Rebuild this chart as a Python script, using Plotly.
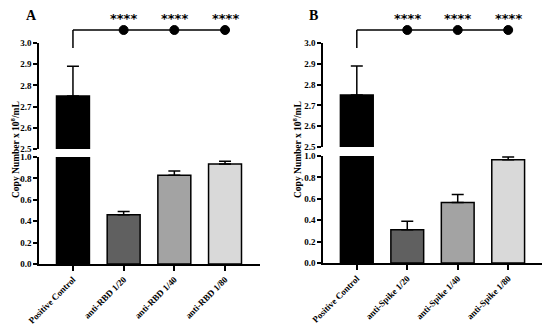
import plotly.graph_objects as go

cats_a = ["Positive Control", "anti-RBD 1/20", "anti-RBD 1/40", "anti-RBD 1/80"]
vals_a = [2.75, 0.46, 0.83, 0.935]
err_a = [0.14, 0.03, 0.04, 0.025]

cats_b = ["Positive Control", "anti-Spike 1/20", "anti-Spike 1/40", "anti-Spike 1/80"]
vals_b = [2.75, 0.31, 0.565, 0.965]
err_b = [0.14, 0.08, 0.075, 0.025]

colors = ["#000000", "#606060", "#a3a3a3", "#d9d9d9"]
sig_labels = ["****", "****", "****"]
upper_ticks = [2.5, 2.6, 2.7, 2.8, 2.9, 3.0]
lower_ticks = [0.0, 0.2, 0.4, 0.6, 0.8, 1.0]

OFF = 8  # page body margin
W, H = 550 - OFF, 327 - OFF
FONT = "Liberation Serif"

def px(v):
    return (v - OFF) / W

def py(v):
    return 1 - (v - OFF) / H

fig = go.Figure()

panels = [
    dict(cats=cats_a, vals=vals_a, err=err_a, x="x", x2="x2", yu="y", yl="y2",
         xdom=[px(39), px(260)], yu_dom=[py(149), py(43)], yl_dom=[py(264), py(157)],
         letter="A", letter_x=31, title_x=15),
    dict(cats=cats_b, vals=vals_b, err=err_b, x="x3", x2="x4", yu="y3", yl="y4",
         xdom=[px(323), px(543)], yu_dom=[py(147), py(43)], yl_dom=[py(263), py(156)],
         letter="B", letter_x=313, title_x=297),
]

for p in panels:
    idx = list(range(len(p["cats"])))
    for xa, ya in [(p["x"], p["yu"]), (p["x2"], p["yl"])]:
        fig.add_trace(go.Bar(
            x=idx, y=p["vals"], xaxis=xa, yaxis=ya, width=0.65,
            marker=dict(color=colors, line=dict(color="black", width=1.5)),
            error_y=dict(type="data", array=p["err"], arrayminus=[0] * len(idx),
                         symmetric=False, color="black", thickness=1.5, width=6),
            showlegend=False, hoverinfo="skip",
        ))

tick_font = dict(family=FONT, size=9, color="black", weight="bold")
layout = dict(
    width=W, height=H, margin=dict(l=0, r=0, t=0, b=0, autoexpand=False),
    plot_bgcolor="white", paper_bgcolor="white", bargap=0.35,
)

ax_names = [("xaxis", "yaxis", "xaxis2", "yaxis2"), ("xaxis3", "yaxis3", "xaxis4", "yaxis4")]
for p, (xu, yu, xl, yl) in zip(panels, ax_names):
    rng = [-0.67, 3.69]
    layout[xu] = dict(domain=p["xdom"], range=rng, anchor=p["yu"], showticklabels=False,
                      ticks="", showline=False, showgrid=False, zeroline=False,
                      fixedrange=True, automargin=False)
    layout[xl] = dict(domain=p["xdom"], range=rng, anchor=p["yl"], automargin=False,
                      tickmode="array", tickvals=list(range(4)), ticktext=p["cats"],
                      tickangle=-45, ticks="outside", ticklen=5, tickwidth=1.5, tickcolor="black",
                      showline=True, linecolor="black", linewidth=1.5, showgrid=False,
                      zeroline=False, tickfont=tick_font)
    layout[yu] = dict(domain=p["yu_dom"], range=[2.5, 3.0], anchor=p["x"], automargin=False,
                      tickmode="array", tickvals=upper_ticks, ticktext=[f"{t:.1f}" for t in upper_ticks],
                      ticks="outside", ticklen=4, tickwidth=1.5, tickcolor="black",
                      showline=True, linecolor="black", linewidth=1.5, showgrid=False,
                      zeroline=False, tickfont=tick_font)
    layout[yl] = dict(domain=p["yl_dom"], range=[0, 1.0], anchor=p["x2"], automargin=False,
                      tickmode="array", tickvals=lower_ticks, ticktext=[f"{t:.1f}" for t in lower_ticks],
                      ticks="outside", ticklen=4, tickwidth=1.5, tickcolor="black",
                      showline=True, linecolor="black", linewidth=1.5, showgrid=False,
                      zeroline=False, tickfont=tick_font)

fig.update_layout(**layout)

shapes = []
annotations = []
for p in panels:
    xr = p["x"]
    shapes.append(dict(type="line", xref=xr, yref="paper", x0=0, x1=0, y0=py(48), y1=py(30),
                       line=dict(color="black", width=1.5)))
    shapes.append(dict(type="line", xref=xr, yref="paper", x0=0, x1=3, y0=py(30), y1=py(30),
                       line=dict(color="black", width=1.5)))
    for i, lab in enumerate(sig_labels, start=1):
        shapes.append(dict(type="circle", xref=xr, yref="paper", xsizemode="pixel", ysizemode="pixel",
                           xanchor=i, yanchor=py(30), x0=-4.5, x1=4.5, y0=-4.5, y1=4.5,
                           fillcolor="black", line=dict(color="black", width=1)))
        annotations.append(dict(text=f"<b>{lab}</b>", xref=xr, yref="paper", x=i, y=py(19),
                                showarrow=False, xanchor="center", yanchor="middle",
                                font=dict(family="DejaVu Sans", size=13, color="black")))
    annotations.append(dict(text=f"<b>{p['letter']}</b>", xref="paper", yref="paper",
                            x=px(p["letter_x"]), y=py(15), showarrow=False,
                            xanchor="center", yanchor="middle",
                            font=dict(family=FONT, size=14, color="black")))
    annotations.append(dict(text="<b>Copy Number x 10<sup>8</sup>/mL</b>", xref="paper", yref="paper",
                            x=px(p["title_x"]), y=py(150), textangle=-90, showarrow=False,
                            xanchor="center", yanchor="middle",
                            font=dict(family=FONT, size=9.5, color="black")))

fig.update_layout(shapes=shapes, annotations=annotations)
fig.write_html("out.html")
